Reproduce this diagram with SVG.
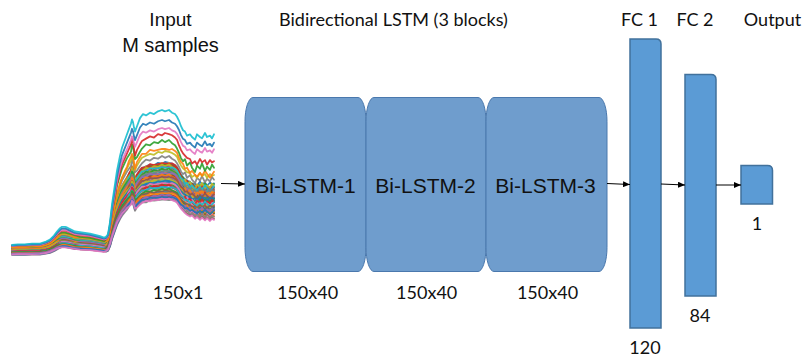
<svg xmlns="http://www.w3.org/2000/svg" width="808" height="358" viewBox="0 0 808 358">
  <style>
    .sp { fill: none; stroke-width: 1.8; stroke-linejoin: round; stroke-linecap: round; vector-effect: non-scaling-stroke; }
    .c0 { stroke: #1f77b4; } .c1 { stroke: #ff7f0e; } .c2 { stroke: #2ca02c; } .c3 { stroke: #d62728; }
    .c4 { stroke: #9467bd; } .c5 { stroke: #8c564b; } .c6 { stroke: #e377c2; } .c7 { stroke: #7f7f7f; }
    .c8 { stroke: #bcbd22; } .c9 { stroke: #17becf; }
    .lstm { fill: #6f9dcd; stroke: #4a78ad; stroke-width: 1; }
    .fc { fill: #5b9bd5; stroke: #41719c; stroke-width: 1.5; }
    .lbl { font-family: Lato, "Liberation Sans", sans-serif; font-size: 18px; fill: #111; text-anchor: middle; }
    .arial { font-family: "Liberation Sans", Arial, sans-serif; fill: #111; text-anchor: middle; }
    .blk { font-family: "Liberation Sans", Arial, sans-serif; font-size: 21px; fill: #111; text-anchor: middle; }
    .conn { stroke: #000; stroke-width: 1; fill: none; marker-end: url(#ah); }
  </style>
  <defs>
    <marker id="ah" viewBox="0 0 7 6" refX="7" refY="3" markerWidth="7" markerHeight="6" markerUnits="userSpaceOnUse" orient="auto">
      <path d="M0,0 L7,3 L0,6 Z" fill="#000"/>
    </marker>
    <!-- spectrum templates: x in px, y = -(normalised height x 100) -->
    <path id="sA" class="sp" d="M12,0 L18,-0.5 L25,-0.5 L32,-1 L40,-1 L46,-2.5 L50,-4 L54,-7 L57,-10 L60,-12.5 L62,-13.5 L65,-13.5 L67,-13 L71,-11.5 L75,-10 L80,-9.5 L85,-9 L90,-8.5 L95,-7.5 L100,-6.5 L104,-5.5 L106,-6 L108,-8 L110,-17 L112,-30 L115,-45 L117,-55 L120,-66 L122,-72 L125,-78 L127,-82 L129,-86 L131,-90 L132,-95 L133,-93 L134,-86 L135,-80 L137,-85 L140,-90 L142,-93 L146,-95 L150,-97 L154,-96 L158,-99 L162,-98 L165,-100 L169,-99 L172,-98 L175,-96 L177,-94 L179,-89 L181,-85 L183,-82 L185,-80 L187,-78 L190,-77 L192,-73 L195,-75 L197,-72 L200,-77 L202,-74 L205,-76 L207,-72 L210,-76 L212,-74 L214,-75"/>
    <path id="sB" class="sp" d="M12,-0.5 L18,-1 L25,-1 L32,-1 L40,-1.5 L46,-3 L50,-5 L54,-8 L57,-11 L60,-12.5 L62,-13 L65,-13 L67,-12.5 L71,-11.5 L75,-10.5 L80,-9 L85,-8.5 L90,-8 L95,-7 L100,-6 L104,-5 L106,-6.5 L108,-9 L110,-19 L112,-32 L115,-47 L117,-57 L120,-67 L122,-73 L125,-79 L127,-83 L129,-86 L131,-89 L132,-96 L133,-94 L134,-88 L135,-82 L137,-84 L140,-89 L142,-92 L146,-96 L150,-95 L154,-98 L158,-97 L162,-100 L165,-98 L169,-100 L172,-97 L175,-95 L177,-92 L179,-88 L181,-83 L183,-80 L185,-82 L187,-76 L190,-79 L192,-74 L195,-70 L197,-76 L200,-73 L202,-78 L205,-71 L207,-75 L210,-72 L212,-77 L214,-74"/>
    <path id="sC" class="sp" d="M12,0 L18,0 L25,0 L32,-0.5 L40,-0.5 L46,-2 L50,-3.5 L54,-6.5 L57,-9.5 L60,-12.5 L62,-14 L65,-14 L67,-13.5 L71,-12 L75,-10 L80,-10 L85,-9.5 L90,-9 L95,-8 L100,-7 L104,-6 L106,-5.5 L108,-7 L110,-15 L112,-28 L115,-43 L117,-53 L120,-64 L122,-70 L125,-77 L127,-81 L129,-87 L131,-91 L132,-94 L133,-92 L134,-85 L135,-79 L137,-86 L140,-91 L142,-94 L146,-94 L150,-98 L154,-97 L158,-98 L162,-99 L165,-99 L169,-98 L172,-99 L175,-97 L177,-95 L179,-90 L181,-86 L183,-84 L185,-79 L187,-80 L190,-75 L192,-77 L195,-73 L197,-71 L200,-75 L202,-72 L205,-77 L207,-74 L210,-70 L212,-73 L214,-76"/>
    <path id="sD" class="sp" d="M12,0 L18,-0.5 L25,-0.5 L32,-1 L40,-1 L46,-2.5 L50,-4 L54,-7 L57,-10 L60,-12.5 L62,-13.5 L65,-13.5 L67,-13 L71,-11.5 L75,-10 L80,-9.5 L85,-9 L90,-8.5 L95,-7.5 L100,-6.5 L104,-5.5 L106,-6 L108,-8 L110,-17 L112,-30 L115,-45 L117,-55 L120,-66 L122,-72 L125,-78 L127,-82 L129,-86 L131,-90 L132,-93 L133,-91 L134,-87 L135,-84 L137,-88 L140,-94 L143,-97 L146,-96 L150,-98 L154,-97 L158,-99 L162,-100 L165,-99 L169,-100 L172,-98 L175,-97 L177,-95 L179,-92 L181,-88 L183,-85 L185,-84 L187,-81 L190,-82 L192,-80 L195,-78 L197,-82 L200,-80 L202,-79 L205,-83 L207,-80 L210,-81 L212,-79 L214,-82"/>
    <path id="sE" class="sp" d="M12,-0.5 L18,-1 L25,-1 L32,-1 L40,-1.5 L46,-3 L50,-5 L54,-8 L57,-11 L60,-12.5 L62,-13 L65,-13 L67,-12.5 L71,-11.5 L75,-10.5 L80,-9 L85,-8.5 L90,-8 L95,-7 L100,-6 L104,-5 L106,-6.5 L108,-9 L110,-19 L112,-32 L115,-47 L117,-57 L120,-67 L122,-73 L125,-79 L127,-83 L129,-86 L131,-89 L132,-96 L133,-94 L134,-88 L135,-82 L137,-84 L140,-89 L142,-92 L146,-96 L150,-95 L154,-98 L158,-97 L162,-100 L165,-98 L169,-100 L172,-97 L175,-95 L177,-93 L179,-87 L181,-82 L183,-78 L185,-74 L187,-71 L190,-68 L192,-70 L195,-64 L197,-67 L200,-62 L202,-66 L205,-61 L207,-65 L210,-60 L212,-64 L214,-62"/>
    <path id="sF" class="sp" d="M12,0 L18,0 L25,0 L32,-0.5 L40,-0.5 L46,-2 L50,-3.5 L54,-6.5 L57,-9.5 L60,-12.5 L62,-14 L65,-14 L67,-13.5 L71,-12 L75,-10 L80,-10 L85,-9.5 L90,-9 L95,-8 L100,-7 L104,-6 L106,-5.5 L108,-7 L110,-15 L112,-28 L115,-43 L117,-53 L120,-64 L122,-70 L125,-77 L127,-81 L129,-87 L131,-91 L132,-94 L133,-92 L134,-85 L135,-79 L137,-86 L140,-91 L142,-94 L146,-94 L150,-98 L154,-97 L158,-98 L162,-99 L165,-99 L169,-98 L172,-99 L175,-97 L177,-94 L179,-90 L181,-84 L183,-80 L185,-77 L187,-79 L190,-72 L192,-75 L195,-69 L197,-74 L200,-68 L202,-73 L205,-67 L207,-72 L210,-66 L212,-70 L214,-68"/>
  </defs>

  <rect width="808" height="358" fill="#fff"/>

  <!-- input spectra plot -->
  <g id="input-spectra" stroke-opacity="0.9">
    <use href="#sA" class="c0" transform="matrix(1 0 0 0.854 0 247.4)"/>
    <use href="#sE" class="c1" transform="matrix(1 0 0 0.846 0 247.6)"/>
    <use href="#sC" class="c2" transform="matrix(1 0 0 0.838 0 247.8)"/>
    <use href="#sF" class="c3" transform="matrix(1 0 0 0.830 0 248.0)"/>
    <use href="#sB" class="c4" transform="matrix(1 0 0 0.822 0 248.2)"/>
    <use href="#sA" class="c5" transform="matrix(1 0 0 0.814 0 248.4)"/>
    <use href="#sE" class="c6" transform="matrix(1 0 0 0.806 0 248.6)"/>
    <use href="#sC" class="c7" transform="matrix(1 0 0 0.798 0 248.8)"/>
    <use href="#sF" class="c8" transform="matrix(1 0 0 0.790 0 249.0)"/>
    <use href="#sB" class="c9" transform="matrix(1 0 0 0.782 0 249.2)"/>
    <use href="#sE" class="c0" transform="matrix(1 0 0 0.774 0 249.4)"/>
    <use href="#sA" class="c1" transform="matrix(1 0 0 0.766 0 249.6)"/>
    <use href="#sF" class="c2" transform="matrix(1 0 0 0.758 0 249.8)"/>
    <use href="#sC" class="c3" transform="matrix(1 0 0 0.750 0 250.0)"/>
    <use href="#sB" class="c4" transform="matrix(1 0 0 0.742 0 250.2)"/>
    <use href="#sE" class="c5" transform="matrix(1 0 0 0.734 0 250.4)"/>
    <use href="#sA" class="c6" transform="matrix(1 0 0 0.726 0 250.6)"/>
    <use href="#sF" class="c7" transform="matrix(1 0 0 0.718 0 250.8)"/>
    <use href="#sC" class="c8" transform="matrix(1 0 0 0.710 0 251.0)"/>
    <use href="#sE" class="c9" transform="matrix(1 0 0 0.702 0 251.2)"/>
    <use href="#sB" class="c0" transform="matrix(1 0 0 0.694 0 251.4)"/>
    <use href="#sF" class="c1" transform="matrix(1 0 0 0.686 0 251.6)"/>
    <use href="#sA" class="c2" transform="matrix(1 0 0 0.678 0 251.8)"/>
    <use href="#sE" class="c3" transform="matrix(1 0 0 0.670 0 252.0)"/>
    <use href="#sC" class="c4" transform="matrix(1 0 0 0.662 0 252.2)"/>
    <use href="#sF" class="c5" transform="matrix(1 0 0 0.654 0 252.4)"/>
    <use href="#sB" class="c6" transform="matrix(1 0 0 0.646 0 252.6)"/>
    <use href="#sE" class="c7" transform="matrix(1 0 0 0.638 0 252.8)"/>
    <use href="#sA" class="c8" transform="matrix(1 0 0 0.630 0 253.0)"/>
    <use href="#sF" class="c9" transform="matrix(1 0 0 0.622 0 253.2)"/>
    <use href="#sC" class="c0" transform="matrix(1 0 0 0.614 0 253.4)"/>
    <use href="#sE" class="c1" transform="matrix(1 0 0 0.606 0 253.6)"/>
    <use href="#sB" class="c2" transform="matrix(1 0 0 0.598 0 253.8)"/>
    <use href="#sF" class="c3" transform="matrix(1 0 0 0.590 0 254.0)"/>
    <use href="#sA" class="c4" transform="matrix(1 0 0 0.582 0 254.2)"/>
    <use href="#sE" class="c5" transform="matrix(1 0 0 0.574 0 254.4)"/>
    <use href="#sC" class="c6" transform="matrix(1 0 0 0.566 0 254.6)"/>
    <use href="#sF" class="c7" transform="matrix(1 0 0 0.558 0 254.8)"/>
    <use href="#sF" class="c3" transform="matrix(1 0 0 0.850 0 247.5)"/>
    <use href="#sB" class="c8" transform="matrix(1 0 0 0.834 0 247.9)"/>
    <use href="#sC" class="c9" transform="matrix(1 0 0 0.818 0 248.3)"/>
    <use href="#sE" class="c2" transform="matrix(1 0 0 0.802 0 248.7)"/>
    <use href="#sA" class="c7" transform="matrix(1 0 0 0.786 0 249.1)"/>
    <use href="#sF" class="c4" transform="matrix(1 0 0 0.770 0 249.5)"/>
    <use href="#sB" class="c1" transform="matrix(1 0 0 0.754 0 249.9)"/>
    <use href="#sC" class="c5" transform="matrix(1 0 0 0.738 0 250.3)"/>
    <use href="#sE" class="c8" transform="matrix(1 0 0 0.722 0 250.7)"/>
    <use href="#sA" class="c0" transform="matrix(1 0 0 0.706 0 251.1)"/>
    <use href="#sF" class="c6" transform="matrix(1 0 0 0.690 0 251.5)"/>
    <use href="#sB" class="c3" transform="matrix(1 0 0 0.674 0 251.9)"/>
    <use href="#sC" class="c9" transform="matrix(1 0 0 0.658 0 252.3)"/>
    <use href="#sE" class="c2" transform="matrix(1 0 0 0.642 0 252.7)"/>
    <use href="#sA" class="c5" transform="matrix(1 0 0 0.626 0 253.1)"/>
    <use href="#sF" class="c1" transform="matrix(1 0 0 0.610 0 253.5)"/>
    <use href="#sB" class="c4" transform="matrix(1 0 0 0.594 0 253.9)"/>
    <use href="#sC" class="c0" transform="matrix(1 0 0 0.578 0 254.3)"/>
    <use href="#sE" class="c6" transform="matrix(1 0 0 0.562 0 254.7)"/>
    <use href="#sB" class="c7" transform="matrix(1 0 0 0.910 0 247.0)"/>
    <use href="#sA" class="c8" transform="matrix(1 0 0 0.960 0 247.0)"/>
    <use href="#sC" class="c1" transform="matrix(1 0 0 0.990 0 247.0)"/>
    <use href="#sB" class="c2" transform="matrix(1 0 0 1.065 0 246.5)"/>
    <use href="#sA" class="c3" transform="matrix(1 0 0 1.130 0 246.0)"/>
    <use href="#sD" class="c6" transform="matrix(1 0 0 1.180 0 246.0)"/>
    <use href="#sD" class="c0" transform="matrix(1 0 0 1.255 0 245.5)"/>
    <use href="#sD" class="c9" transform="matrix(1 0 0 1.350 0 245.0)"/>
  </g>

  <!-- headings -->
  <text class="arial" x="170.5" y="26" font-size="19">Input</text>
  <text class="arial" x="170.5" y="52" font-size="20">M samples</text>
  <text class="lbl" x="393.5" y="26" font-size="18.5">Bidirectional LSTM (3 blocks)</text>
  <text class="lbl" x="639.5" y="26">FC 1</text>
  <text class="lbl" x="695" y="26">FC 2</text>
  <text class="lbl" x="772.5" y="26">Output</text>
  <text class="lbl" x="178" y="299">150x1</text>

  <!-- recurrent blocks -->
  <g id="bilstm-1">
    <rect class="lstm" x="245" y="97.5" width="121" height="174" rx="8" ry="24"/>
    <text class="blk" x="305.5" y="193">Bi-LSTM-1</text>
    <text class="lbl" x="307.5" y="299">150x40</text>
  </g>
  <g id="bilstm-2">
    <rect class="lstm" x="366" y="97.5" width="120" height="174" rx="8" ry="24"/>
    <text class="blk" x="425.5" y="193">Bi-LSTM-2</text>
    <text class="lbl" x="426.7" y="299">150x40</text>
  </g>
  <g id="bilstm-3">
    <rect class="lstm" x="486" y="97.5" width="121" height="174" rx="8" ry="24"/>
    <text class="blk" x="545.5" y="193">Bi-LSTM-3</text>
    <text class="lbl" x="547.5" y="299">150x40</text>
  </g>

  <!-- dense layers -->
  <g id="fc1">
    <path class="fc" d="M630,39 H656 Q661,39 661,44 V328 H630 Z"/>
    <text class="lbl" x="645" y="354">120</text>
  </g>
  <g id="fc2">
    <path class="fc" d="M685,74.5 H711 Q716,74.5 716,79.5 V296 H685 Z"/>
    <text class="lbl" x="700" y="322">84</text>
  </g>
  <g id="output">
    <path class="fc" d="M741,165.5 H767.5 Q772.5,165.5 772.5,170.5 V204 H741 Z"/>
    <text class="lbl" x="757" y="230">1</text>
  </g>

  <g id="connectors">
    <path class="conn" d="M221,183.5 L245,184"/>
    <path class="conn" d="M607,183.5 L630,184.5"/>
    <path class="conn" d="M661,184 L685,185"/>
    <path class="conn" d="M716,185 L741,185"/>
  </g>
</svg>
